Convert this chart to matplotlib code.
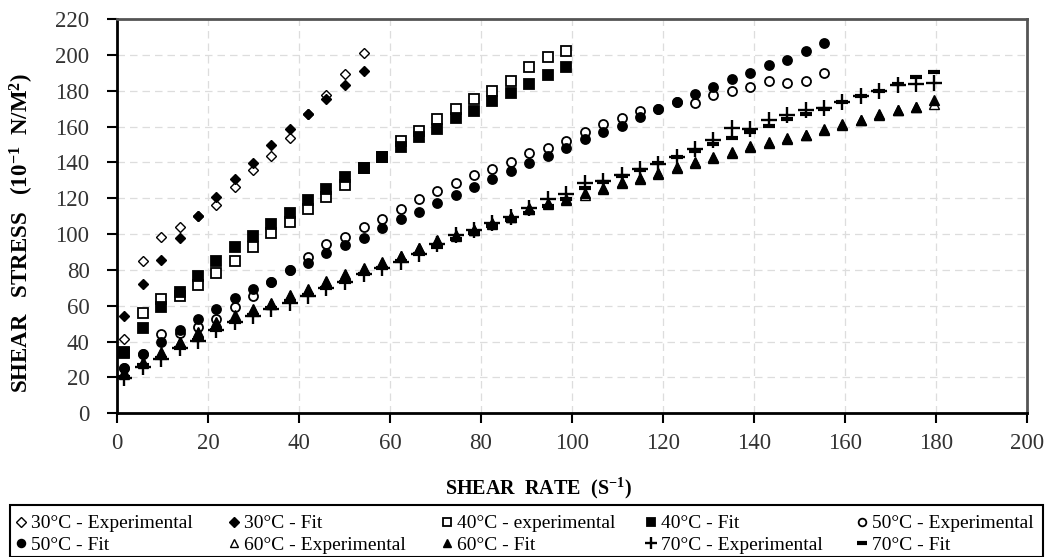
import matplotlib
matplotlib.use("Agg")
import matplotlib.pyplot as plt
from matplotlib.patches import Rectangle

plt.rcParams['font.family'] = ['Liberation Serif', 'DejaVu Serif']
plt.rcParams['mathtext.fontset'] = 'custom'
plt.rcParams['mathtext.rm'] = 'Liberation Serif'
plt.rcParams['mathtext.bf'] = 'Liberation Serif:bold'

# shear rates (S^-1)
shear_rate = [1.5, 5.6, 9.6, 13.7, 17.7, 21.8, 25.8, 29.9, 33.9, 37.9,
              42.0, 46.0, 50.1, 54.2, 58.2, 62.3, 66.3, 70.4, 74.4, 78.5,
              82.5, 86.6, 90.6, 94.7, 98.7, 102.8, 106.8, 110.9, 114.9, 119.0,
              123.0, 127.1, 131.1, 135.2, 139.2, 143.3, 147.3, 151.4, 155.4, 159.4,
              163.5, 167.5, 171.6, 175.6, 179.7]

exp_30 = [41.3, 84.9, 98.2, 104.1, 110, 116.2, 126, 135.6, 143.7, 153.7, 166.8, 177.5, 189.2, 201.1]
fit_30 = [54.2, 72, 85.5, 97.6, 110, 120.8, 130.7, 139.4, 149.6, 158.6, 166.8, 175.1, 182.9, 190.9]

exp_40 = [34, 55.8, 63.6, 65.6, 71.6, 78.4, 84.9, 92.6, 100.4, 106.9, 113.9, 120.5, 127.3,
          136.6, 143.1, 151.9, 157.4, 164.1, 169.7, 175.3, 179.8, 185.5, 193.3, 198.9, 202.2]
fit_40 = [33.5, 47.4, 59.1, 67.5, 76.6, 84.9, 92.6, 99, 105.6, 111.9, 119, 125, 131.6,
          136.6, 143.1, 148.7, 154.3, 158.9, 164.5, 168.6, 174.2, 178.5, 184, 188.7, 193.3]

exp_50 = [25, 33, 44.2, 45, 48.3, 52.4, 59.1, 65.4, 73, 80, 87.3, 94.4, 98.5, 103.7, 108.4,
          113.9, 119.5, 124.2, 128.6, 132.9, 136.2, 140, 145.3, 147.8, 152.2, 157.1, 161.2,
          164.5, 168.8, 169.7, 173.5, 172.9, 177.5, 179.8, 181.8, 185.3, 184.4, 185.3, 190]
fit_50 = [25.3, 33, 39.9, 46.5, 52.4, 58.2, 64.1, 69.3, 73.4, 79.9, 84, 89.2, 93.9, 97.9, 103.5,
          108.2, 112.4, 117.1, 121.8, 126, 130.7, 135.1, 139.4, 143.7, 148.3, 152.8, 157.1,
          160.4, 165.1, 169.7, 173.5, 177.9, 182.2, 186.4, 190, 194.3, 197.4, 202, 206.4]

exp_60 = [22, 28, 33.5, 40, 45, 50.5, 54, 57.5, 61, 65.5, 69, 73.5, 77, 80.5, 84, 87.5, 92,
          96, 99, 102, 105.5, 109.5, 114, 117, 119, 122, 125, 128.5, 131, 133.5, 137, 139.8,
          142.5, 145.5, 148.5, 151, 153, 155, 158.9, 161, 163.5, 166.5, 169, 171, 172.5]
fit_60 = [23.2, 28.8, 34.4, 40, 45.5, 51.1, 54.8, 58, 61.5, 66, 69.5, 74, 77.5, 81, 84.3, 88,
          92.4, 96.5, 99.4, 102.2, 106, 109.7, 114.3, 117.1, 119.5, 122.7, 125.5, 129.2, 131.1,
          133.9, 137.5, 140.3, 143.1, 145.9, 149.1, 151.5, 153.4, 155.2, 158, 161.3, 163.6,
          166.8, 169.2, 171, 174.7]

exp_70 = [19.5, 26, 30.5, 36.3, 40.5, 46.5, 51, 54.5, 58, 61.3, 65.4, 70, 73.4, 77.9, 81,
          84.5, 88.7, 94.5, 99.4, 102.2, 106, 109.7, 114.5, 119.5, 122.3, 128.3, 129.7, 132.9,
          136.1, 138.9, 142.8, 147.2, 152.4, 159.3, 158.9, 163.6, 166.4, 169.2, 170.1, 173.5,
          177, 179.9, 183.1, 184, 184.4]
fit_70 = [20.4, 27, 31, 36.5, 41, 46.5, 51, 55, 59, 62.5, 66, 70, 73.5, 77.5, 81, 85, 89, 93,
          97, 100.5, 104.5, 108, 112, 115.5, 119.5, 125.5, 129, 132.5, 136, 139.5, 143, 146.5,
          150.2, 153.7, 157.1, 160.4, 164, 167, 170, 173.5, 177, 180, 183.5, 187.4, 190.5]

labels = ['30°C - Experimental', '30°C - Fit', '40°C - experimental', '40°C - Fit',
          '50°C - Experimental', '50°C - Fit', '60°C - Experimental', '60°C - Fit',
          '70°C - Experimental', '70°C - Fit']

W, H = 1051, 557
fig = plt.figure(figsize=(W / 100, H / 100), dpi=100)
ax = fig.add_axes([117.3 / W, 1 - 413.3 / H, (1026.7 - 117.3) / W, (413.3 - 19) / H])

series = [
    (exp_30, 'D', 5.5, 'white', 1.0),
    (fit_30, 'D', 5.5, 'black', 1.0),
    (exp_40, 's', 6.5, 'white', 1.3),
    (fit_40, 's', 6.5, 'black', 1.3),
    (exp_50, 'o', 6.5, 'white', 1.3),
    (fit_50, 'o', 6.5, 'black', 1.3),
    (exp_60, '^', 7, 'white', 1.0),
    (fit_60, '^', 7, 'black', 1.0),
    (exp_70, '+', 11, 'black', 1.7),
    (fit_70, '_', 9, 'black', 3.0),
]

handles = []
for (vals, mk, ms, fc, mew), lab in zip(series, labels):
    h, = ax.plot(shear_rate[:len(vals)], vals, linestyle='none', marker=mk, markersize=ms,
                 markerfacecolor=fc, markeredgecolor='black', markeredgewidth=mew,
                 color='black', label=lab)
    handles.append(h)

ax.set_xlim(0, 200)
ax.set_ylim(0, 220)
ax.set_xticks(range(0, 201, 20))
ax.set_yticks(range(0, 221, 20))
ax.grid(True, color='#dddddd', linestyle=(0, (6, 4)), linewidth=0.9)
ax.set_axisbelow(True)
ax.tick_params(direction='out', length=7, width=1.5, labelsize=16.5, colors='black',
               labelcolor='#333333')
ax.tick_params(axis='x', pad=7)
ax.tick_params(axis='y', pad=13)
for s in ['left', 'bottom']:
    ax.spines[s].set_linewidth(2)
    ax.spines[s].set_color('black')
for s in ['top', 'right']:
    ax.spines[s].set_linewidth(2)
    ax.spines[s].set_color('#555555')

fig.text(538 / W, 1 - 488 / H, r'SHEAR  RATE  (S$\mathbf{^{-1}}$)', fontsize=14.5,
         fontweight='bold', ha='center', va='center')
fig.text(22 / W, 1 - 233 / H, r'SHEAR   STRESS   ($\mathbf{10^{-1}}$  N/M$\mathbf{^{2}}$)',
         fontsize=16.5, fontweight='bold', rotation=90, ha='center', va='center')

# legend box with five columns of two rows
fig.add_artist(Rectangle((10 / W, 1 - 557 / H), 1033 / W, 52 / H, transform=fig.transFigure,
                         fill=False, edgecolor='black', linewidth=1.5))
col_x = [3, 216, 429, 633, 844]
for j, x in enumerate(col_x):
    fig.legend(handles=[handles[j], handles[j + 5]], labels=[labels[j], labels[j + 5]],
               loc='upper left', bbox_to_anchor=(x / W, 1 - 505 / H), frameon=False,
               fontsize=14, handlelength=0.8, handletextpad=0.15, labelspacing=0.2,
               borderpad=0, markerscale=0.85)

fig.savefig('out.png', dpi=100)
